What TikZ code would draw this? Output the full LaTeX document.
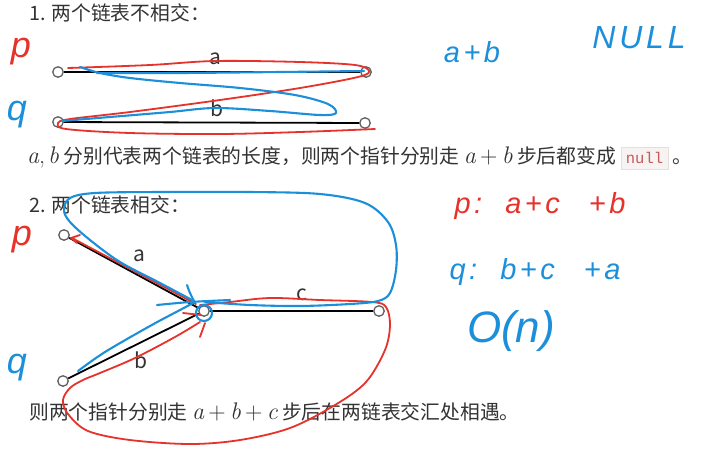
\documentclass[tikz,border=0pt]{standalone}
\usepackage{fontspec}
\setmainfont{Noto Sans CJK SC}
\newfontfamily\hand{Liberation Sans}[LetterSpace=12]
\newfontfamily\handn{Liberation Sans}
\newfontfamily\codefont{Liberation Mono}
\newfontfamily\lmr{Latin Modern Roman}
\newcommand\vi[1]{{\lmr\fontsize{24}{24}\selectfont\itshape #1}}
\newcommand\plusop{\hspace{0.22em}{\lmr\fontsize{24}{24}\selectfont +}\hspace{0.22em}}
\definecolor{hred}{HTML}{E5322B}
\definecolor{hblue}{HTML}{1B8FDA}
\definecolor{txt}{HTML}{333333}
\definecolor{codebg}{HTML}{F6F3F2}
\definecolor{codebd}{HTML}{E4DEDC}
\definecolor{codetx}{HTML}{C45A5A}
\begin{document}
\begin{tikzpicture}[x=1pt,y=-1pt,
  dot/.style={circle,draw=gray!75!black,fill=white,line width=1.3pt,minimum size=10.5pt,inner sep=0pt},
  link/.style={line width=1.8pt,black},
  rstroke/.style={hred,line width=1.8pt,line cap=round,line join=round},
  bstroke/.style={hblue,line width=2.1pt,line cap=round,line join=round},
  body/.style={font=\fontsize{19.8}{22}\selectfont,text=txt,anchor=west,inner sep=0pt},
  lbl/.style={font=\fontsize{21}{24}\selectfont,text=txt,inner sep=0pt},
  hw/.style={font=\hand\itshape\fontsize{29}{32}\selectfont,inner sep=0pt},
  hwbig/.style={font=\handn\itshape\fontsize{36}{40}\selectfont,inner sep=0pt}
]
\useasboundingbox[fill=white] (0,0) rectangle (709,451);

% ---------- texts ----------
\node[body] (t1) at (29,13) {1. 两个链表不相交：};
\node[body] (t2) at (27,158) {\vi{a}{\lmr\fontsize{24}{24}\selectfont ,}\hspace{0.15em}\vi{b} 分别代表两个链表的长度，则两个指针分别走 \vi{a}\plusop\vi{b} 步后都变成 {\setlength\fboxsep{5pt}\fcolorbox{codebd}{codebg}{\codefont\fontsize{15.5}{16}\selectfont\color{codetx}null}} 。};
\node[body] (t3) at (29,205) {2. 两个链表相交：};
\node[body] (t4) at (29,412) {则两个指针分别走 \vi{a}\plusop\vi{b}\plusop\vi{c} 步后在两链表交汇处相遇。};

% ---------- section 1 ----------
\node[dot] (a1) at (58,72) {};
\node[dot] (a2) at (366,72) {};
\node[dot] (b1) at (58,122) {};
\node[dot] (b2) at (365,123) {};
\draw[link] (a1) -- (a2);
\draw[link] (b1) -- (b2);
\node[lbl] (la) at (215,59) {a};
\node[lbl] (lb) at (217,108) {b};

% ---------- section 2 ----------
\node[dot] (p2) at (64,235) {};
\node[dot] (j) at (204,311) {};
\node[dot] (e) at (379,311) {};
\node[dot] (q2) at (63,381) {};
\draw[link] (p2) -- (j);
\draw[link] (q2) -- (j);
\draw[link] (j) -- (e);
\node[lbl] (la2) at (139,256) {a};
\node[lbl] (lb2) at (141,360) {b};
\node[lbl] (lc2) at (302,295) {c};

% ---------- handwriting, section 1 ----------
\draw[rstroke] plot[smooth,tension=0.55] coordinates {(68,68) (150,65) (215,61) (300,62) (355,65) (369,71) (358,77) (300,88) (220,100) (130,112) (70,119) (58,123) (66,129) (130,133) (220,134) (300,132) (375,129)};
\draw[bstroke] plot[smooth,tension=0.55] coordinates {(62,121) (110,117) (170,112) (215,108) (270,111) (320,115) (336,113) (328,104) (295,95) (240,88) (180,83) (130,78) (100,73) (80,67)};
\draw[bstroke] plot[smooth,tension=0.5] coordinates {(97,73) (180,73) (280,72) (364,71)};

% ---------- handwriting, section 2 ----------
\draw[rstroke] (196,304) -- (72,238);
\draw[rstroke] (80,235) -- (71,238) -- (77,243);
\draw[rstroke] plot[smooth,tension=0.55] coordinates {(200,305) (230,302) (270,298) (320,300) (372,302) (386,307) (390,325) (385,350) (366,382) (335,405) (290,428) (240,440) (190,444) (130,440) (88,431) (68,414) (63,400) (70,388) (83,380) (100,373) (135,358) (175,337) (200,322)};
\draw[rstroke] (183,313) -- (201,315);
\draw[rstroke] (200,337) -- (205,323);

\draw[bstroke] plot[smooth,tension=0.55] coordinates {(78,371) (105,352) (150,326) (180,310) (195,302)};
\draw[bstroke] plot[smooth,tension=0.5] coordinates {(157,305) (190,302) (230,300)};
\draw[bstroke] plot[smooth,tension=0.6] coordinates {(187,285) (190,293) (194,301)};
\draw[bstroke] (204,313) circle[radius=8];
\draw[bstroke] plot[smooth,tension=0.55] coordinates {(205,302) (250,305) (300,306) (350,304) (378,301) (390,293) (396,270) (396,245) (388,222) (365,203) (320,194) (250,192) (160,192) (95,193) (70,198) (64,210) (70,222) (90,240) (120,262) (160,283) (192,300)};

% ---------- handwritten labels ----------
\node[hwbig,text=hred] (hp1) at (21,52) {p};
\node[hwbig,text=hblue] (hq1) at (17,115) {q};
\node[hwbig,text=hred] (hp2) at (22,240) {p};
\node[hwbig,text=hblue] (hq2) at (17,368) {q};

\node[hw,text=hblue] (ab) at (472,52) {a+b};
\node[hw,text=hblue,font=\hand\itshape\fontsize{32}{36}\selectfont] (nl) at (639,38) {NULL};
\node[hw,text=hred] (pp) at (540,206) {p:\ \ a+c\quad +b};
\node[hw,text=hblue] (qq) at (535,272) {q:\ \ b+c\quad +a};
\node[hw,text=hblue,font=\handn\itshape\fontsize{44}{48}\selectfont] (on) at (511,331) {O(n)};
\end{tikzpicture}
\end{document}
